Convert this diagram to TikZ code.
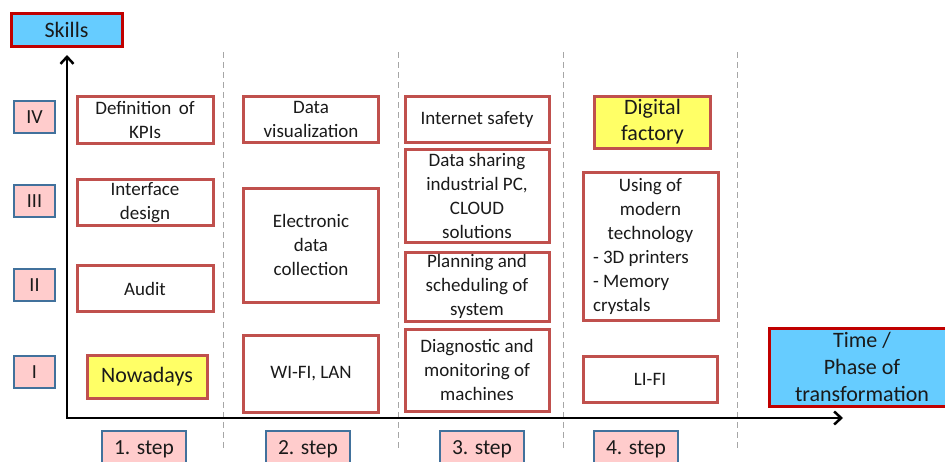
\documentclass[tikz,border=0pt]{standalone}
\usepackage{fontspec}
\setmainfont{Carlito}
\usetikzlibrary{arrows.meta}
\definecolor{boxred}{HTML}{C0504D}
\definecolor{darkred}{HTML}{C00000}
\definecolor{skyblue}{HTML}{66CCFF}
\definecolor{pinkfill}{HTML}{FFCCCC}
\definecolor{labelblue}{HTML}{41719C}
\definecolor{yellowfill}{HTML}{FFFF66}
\definecolor{dashgray}{HTML}{A6A6A6}
\definecolor{inktext}{HTML}{1A1A1A}
\tikzset{
  cell/.style={draw=boxred, line width=3pt, fill=white, align=center, inner sep=0pt,
    text=inktext, font=\fontsize{19}{24}\selectfont},
  hilite/.style={cell, fill=yellowfill, font=\fontsize{22}{26}\selectfont},
  axislabel/.style={draw=darkred, line width=3pt, fill=skyblue, align=center, inner sep=0pt,
    text=inktext, font=\fontsize{22}{27}\selectfont},
  level/.style={draw=labelblue, line width=2.5pt, fill=pinkfill, inner sep=0pt,
    text=inktext, font=\fontsize{20}{24}\selectfont},
  stepbox/.style={level, font=\fontsize{21.5}{24}\selectfont},
  axis/.style={line width=2.5pt, line join=miter,
    {Straight Barb[length=7pt,width=13pt]}-{Straight Barb[length=7pt,width=13pt]}},
  divider/.style={dashgray, line width=1pt, dash pattern=on 6pt off 4pt},
}
\begin{document}
\begin{tikzpicture}[x=1pt,y=-1pt]
\useasboundingbox (0,0) rectangle (945,461);

% dividers
\foreach \xx in {223,398,563,737}
  \draw[divider] (\xx,52) -- (\xx,450);

% axes
\coordinate (origin) at (67,418);
\coordinate (ytop) at (67,55);
\coordinate (xend) at (843,418);
\draw[axis] (ytop) -- (origin) -- (xend);

% axis labels
\node[axislabel, minimum width=111pt, minimum height=33pt] (skills) at (66.5,30) {Skills};
\node[axislabel, minimum width=186pt, minimum height=78pt] (time) at (862,367)
  {Time /\\Phase of\\transformation};

% levels
\node[level, minimum width=41pt, minimum height=32pt] (lIV) at (34.5,117) {IV};
\node[level, minimum width=41pt, minimum height=32pt] (lIII) at (34.5,201) {III};
\node[level, minimum width=41pt, minimum height=32pt] (lII) at (34.5,285) {II};
\node[level, minimum width=41pt, minimum height=32pt] (lI) at (34.5,372) {I};

% steps
\node[stepbox, minimum width=84pt, minimum height=36pt] (s1) at (144,449) {1. step};
\node[stepbox, minimum width=84pt, minimum height=36pt] (s2) at (308,449) {2. step};
\node[stepbox, minimum width=84pt, minimum height=36pt] (s3) at (482,449) {3. step};
\node[stepbox, minimum width=84pt, minimum height=36pt] (s4) at (636,449) {4. step};

% column 1
\node[cell, minimum width=136pt, minimum height=47pt] (kpi) at (145,120) {Definition\, of\\KPIs};
\node[cell, minimum width=136pt, minimum height=46pt] (iface) at (145,202.5) {Interface\\design};
\node[cell, minimum width=136pt, minimum height=46pt] (audit) at (145,288.5) {Audit};
\node[hilite, minimum width=120pt, minimum height=43pt] (now) at (147,377) {Nowadays};

% column 2
\node[cell, minimum width=135pt, minimum height=46pt] (dvis) at (311,119.5) {Data\\visualization};
\node[cell, minimum width=135pt, minimum height=114pt] (edc) at (311,245) {Electronic\\data\\collection};
\node[cell, minimum width=135pt, minimum height=77pt] (wifi) at (311,373.5) {WI-FI, LAN};

% column 3
\node[cell, minimum width=144pt, minimum height=46pt] (inet) at (477,119.5) {Internet safety};
\node[cell, minimum width=144pt, minimum height=93pt] (dshare) at (477,195.5)
  {Data sharing\\industrial PC,\\CLOUD\\solutions};
\node[cell, minimum width=144pt, minimum height=69pt] (plan) at (477,286.5)
  {Planning and\\scheduling of\\system};
\node[cell, minimum width=144pt, minimum height=82pt] (diag) at (477,370)
  {Diagnostic and\\monitoring of\\machines};

% column 4
\node[hilite, minimum width=116pt, minimum height=52pt] (dfac) at (652.5,122) {Digital\\factory};
\node[cell, minimum width=135pt, minimum height=148pt] (using) at (650.5,246)
  {\parbox{115pt}{\centering Using of\\modern\\technology\par\raggedright - 3D printers\\- Memory\\crystals}};
\node[cell, minimum width=134pt, minimum height=46pt] (lifi) at (650,379) {LI-FI};
\end{tikzpicture}
\end{document}
